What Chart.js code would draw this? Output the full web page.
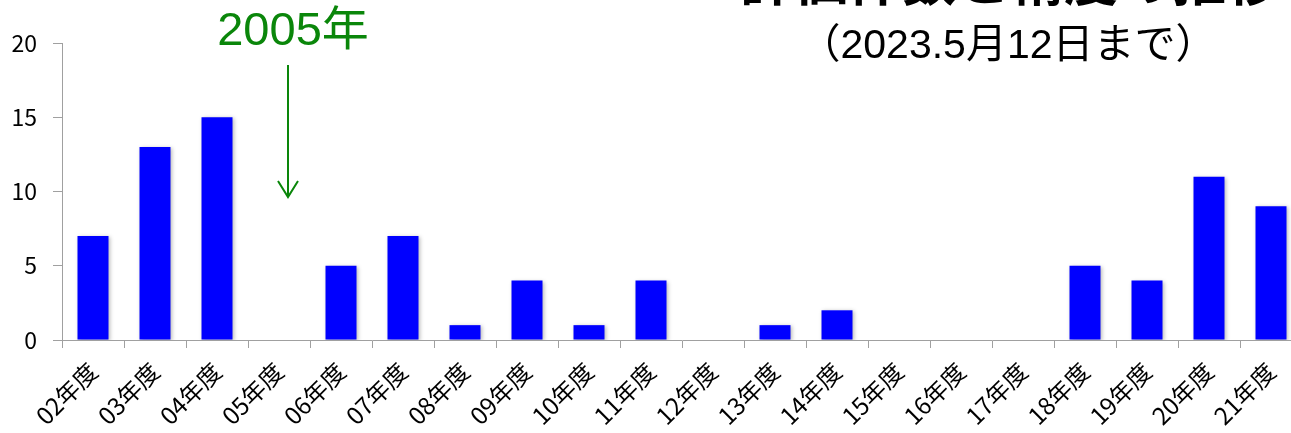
<!DOCTYPE html>
<html>
<head>
<meta charset="utf-8">
<script src="https://cdn.jsdelivr.net/npm/chart.js@4.4.1/dist/chart.umd.min.js"></script>
<style>
  html, body { margin: 0; padding: 0; background: #fff; overflow: hidden; width: 1291px; height: 433px; }
  canvas { display: block; }
</style>
</head>
<body>
<canvas id="c" width="1303" height="433" style="width:1303px;height:433px"></canvas>
<script>
const categories = ["02年度","03年度","04年度","05年度","06年度","07年度","08年度","09年度","10年度","11年度","12年度","13年度","14年度","15年度","16年度","17年度","18年度","19年度","20年度","21年度"];
const counts = [7, 13, 15, 0, 5, 7, 1, 4, 1, 4, 0, 1, 2, 0, 0, 0, 5, 4, 11, 9];
const yTicks = [0, 5, 10, 15, 20];
const titleText = "評価件数と精度の推移";
const subtitleText = "（2023.5月12日まで）";
const annotationText = "2005年";
const annotationCategory = "05年度";

const CJK = "'Noto Sans CJK JP', 'Liberation Sans', sans-serif";
const LAT = "'Liberation Sans', 'Noto Sans CJK JP', sans-serif";

const overlay = {
  id: 'overlay',
  beforeDatasetsDraw(chart) {
    const ctx = chart.ctx;
    ctx.save();
    ctx.shadowColor = 'rgba(0,0,0,0.28)';
    ctx.shadowBlur = 4;
    ctx.shadowOffsetX = 1;
    ctx.shadowOffsetY = 1;
  },
  afterDatasetsDraw(chart) {
    chart.ctx.restore();
  },
  afterDraw(chart) {
    const ctx = chart.ctx;
    const x = chart.scales.x;
    ctx.save();
    // title (cut off by the top edge)
    ctx.fillStyle = '#000';
    ctx.textAlign = 'center';
    ctx.textBaseline = 'alphabetic';
    ctx.font = "bold 54px " + CJK;
    ctx.fillText(titleText, 1010, 1);
    ctx.font = "41px " + LAT;
    ctx.fillText(subtitleText, 1008, 58);
    // annotation
    const cx = x.getPixelForValue(categories.indexOf(annotationCategory)) + 9;
    ctx.fillStyle = '#0a860a';
    ctx.font = "47px " + LAT;
    ctx.fillText(annotationText, cx + 5, 45);
    ctx.strokeStyle = '#0a860a';
    ctx.lineWidth = 2;
    ctx.beginPath();
    ctx.moveTo(cx, 65);
    ctx.lineTo(cx, 197);
    ctx.moveTo(cx - 10, 181);
    ctx.lineTo(cx, 197);
    ctx.lineTo(cx + 10, 181);
    ctx.stroke();
    ctx.restore();
  }
};

new Chart(document.getElementById('c'), {
  type: 'bar',
  data: {
    labels: categories,
    datasets: [{
      data: counts,
      backgroundColor: '#0000ff',
      borderWidth: 0,
      categoryPercentage: 1.0,
      barPercentage: 0.5
    }]
  },
  options: {
    responsive: false,
    devicePixelRatio: 1,
    animation: false,
    layout: { padding: { top: 43, right: 1, left: 0, bottom: 0 } },
    plugins: { legend: { display: false }, tooltip: { enabled: false }, title: { display: false } },
    scales: {
      x: {
        grid: { display: true, drawOnChartArea: false, drawTicks: true, tickLength: 8, color: '#a0a0a0', offset: true },
        border: { display: true, color: '#a0a0a0', width: 1 },
        ticks: {
          color: '#000', font: { family: CJK, size: 24 },
          maxRotation: 45, minRotation: 45, autoSkip: false, padding: 9
        },
        afterFit(s) { s.height = 93; }
      },
      y: {
        min: 0, max: 20,
        afterBuildTicks(s) { s.ticks = yTicks.map(v => ({ value: v })); },
        grid: { display: true, drawOnChartArea: false, drawTicks: true, tickLength: 9, color: '#a0a0a0' },
        border: { display: true, color: '#a0a0a0', width: 1 },
        ticks: { color: '#000', font: { family: CJK, size: 23 }, padding: 16 },
        afterFit(s) { s.width = 62; }
      }
    }
  },
  plugins: [overlay]
});
</script>
</body>
</html>
